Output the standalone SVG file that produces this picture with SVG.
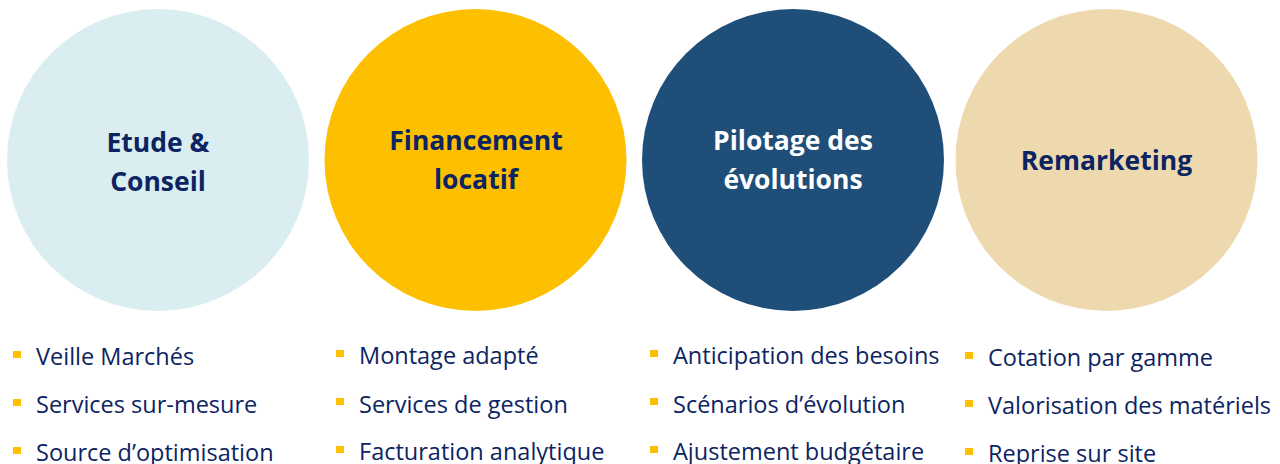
<svg xmlns="http://www.w3.org/2000/svg" width="1280" height="464" viewBox="0 0 1280 464">
<style>
.title{font-family:"Open Sans","Liberation Sans",sans-serif;font-weight:bold;font-size:26.5px;fill:#0c2461;text-anchor:middle}
.white{fill:#ffffff}
.item{font-family:"Open Sans","Liberation Sans",sans-serif;font-size:23.5px;fill:#0c2461}
.bullet{fill:#ffc000}
</style>
<rect width="1280" height="464" fill="#ffffff"/>
<g id="node-etude">
<circle cx="158" cy="160" r="151" fill="#daedf0"/>
<text class="title" x="158" y="152">Etude &amp;</text>
<text class="title" x="158" y="191">Conseil</text>
</g>
<g id="node-financement">
<circle cx="475.5" cy="160" r="151" fill="#fdc000"/>
<text class="title" x="476" y="150">Financement</text>
<text class="title" x="476" y="189">locatif</text>
</g>
<g id="node-pilotage">
<circle cx="793" cy="160" r="151" fill="#1f4e79"/>
<text class="title white" x="793" y="150">Pilotage des</text>
<text class="title white" x="793" y="189">évolutions</text>
</g>
<g id="node-remarketing">
<circle cx="1106.5" cy="160" r="151" fill="#eed9ae"/>
<text class="title" x="1106.5" y="170">Remarketing</text>
</g>
<g id="list-etude">
<rect class="bullet" x="13" y="351" width="8" height="7"/>
<text class="item" x="36" y="364.5">Veille Marchés</text>
<rect class="bullet" x="13" y="399" width="8" height="7"/>
<text class="item" x="36" y="413">Services sur-mesure</text>
<rect class="bullet" x="13" y="447" width="8" height="7"/>
<text class="item" x="36" y="460.5">Source d’optimisation</text>
</g>
<g id="list-financement">
<rect class="bullet" x="336" y="350" width="8" height="7"/>
<text class="item" x="359" y="364">Montage adapté</text>
<rect class="bullet" x="336" y="398" width="8" height="7"/>
<text class="item" x="359" y="412.5">Services de gestion</text>
<rect class="bullet" x="336" y="446" width="8" height="7"/>
<text class="item" x="359" y="460">Facturation analytique</text>
</g>
<g id="list-pilotage">
<rect class="bullet" x="650" y="350" width="8" height="7"/>
<text class="item" x="673" y="364">Anticipation des besoins</text>
<rect class="bullet" x="650" y="398" width="8" height="7"/>
<text class="item" x="673" y="412.5">Scénarios d’évolution</text>
<rect class="bullet" x="650" y="446" width="8" height="7"/>
<text class="item" x="673" y="460">Ajustement budgétaire</text>
</g>
<g id="list-remarketing">
<rect class="bullet" x="965" y="352" width="8" height="7"/>
<text class="item" x="988" y="365.5">Cotation par gamme</text>
<rect class="bullet" x="965" y="400" width="8" height="7"/>
<text class="item" x="988" y="414">Valorisation des matériels</text>
<rect class="bullet" x="965" y="448" width="8" height="7"/>
<text class="item" x="988" y="461.5">Reprise sur site</text>
</g>
</svg>
